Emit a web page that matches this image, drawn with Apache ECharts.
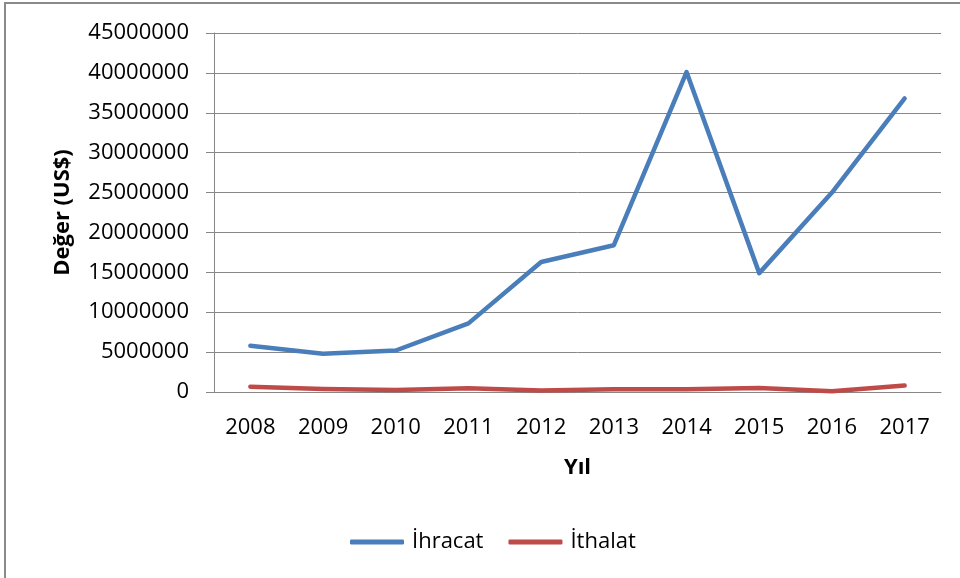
<!DOCTYPE html>
<html>
<head>
<meta charset="utf-8">
<script src="https://cdn.jsdelivr.net/npm/echarts@6/dist/echarts.min.js"></script>
<style>
html,body{margin:0;padding:0;background:#fff;}
#c{width:960px;height:578px;}
</style>
</head>
<body>
<div id="c"></div>
<script>
var years = ['2008','2009','2010','2011','2012','2013','2014','2015','2016','2017'];
var ihracat = [5800000, 4800000, 5200000, 8600000, 16300000, 18400000, 40100000, 14900000, 25000000, 36800000];
var ithalat = [670000, 380000, 250000, 460000, 200000, 330000, 330000, 500000, 80000, 800000];
var seriesNames = ['İhracat', 'İthalat'];

var chart = echarts.init(document.getElementById('c'));
var font = '"Open Sans", "Liberation Sans", sans-serif';
chart.setOption({
  animation: false,
  backgroundColor: '#fff',
  textStyle: { fontFamily: font },
  graphic: [{
    type: 'rect',
    shape: { x: 5, y: 3, width: 1000, height: 1000 },
    style: { fill: 'none', stroke: '#8a8a8a', lineWidth: 2 },
    silent: true
  }],
  grid: { left: 214, right: 19, top: 33, bottom: 186, containLabel: false },
  legend: {
    data: seriesNames,
    bottom: 20,
    left: 345,
    itemWidth: 54,
    itemHeight: 5,
    itemGap: 25,
    icon: 'roundRect',
    textStyle: { fontSize: 22, color: '#000', fontFamily: font, padding: [0,0,0,3] }
  },
  xAxis: {
    type: 'category',
    data: years,
    boundaryGap: true,
    name: 'Yıl',
    nameLocation: 'middle',
    nameGap: 65,
    nameTextStyle: { fontSize: 22, fontWeight: 'bold', color: '#000', fontFamily: font },
    axisLine: { lineStyle: { color: '#878787', width: 1 } },
    axisTick: { show: false },
    axisLabel: { fontSize: 22, color: '#000', margin: 25, fontFamily: font }
  },
  yAxis: {
    type: 'value',
    min: 0,
    max: 45000000,
    interval: 5000000,
    name: 'Değer (US$)',
    nameLocation: 'middle',
    nameGap: 140,
    nameTextStyle: { fontSize: 22, fontWeight: 'bold', color: '#000', fontFamily: font },
    axisLine: { show: true, lineStyle: { color: '#878787', width: 1 } },
    axisTick: { show: true, length: 8, lineStyle: { color: '#878787' } },
    splitLine: { lineStyle: { color: '#878787', width: 1 } },
    axisLabel: { fontSize: 22, color: '#000', margin: 25, fontFamily: font,
      formatter: function (v) { return String(v); } }
  },
  series: [
    {
      name: seriesNames[0], type: 'line', data: ihracat,
      symbol: 'none', smooth: false,
      lineStyle: { color: '#4A7EBB', width: 4.5, cap: 'round', join: 'round' },
      itemStyle: { color: '#4A7EBB' }
    },
    {
      name: seriesNames[1], type: 'line', data: ithalat,
      symbol: 'none', smooth: false,
      lineStyle: { color: '#BE4B48', width: 4.5, cap: 'round', join: 'round' },
      itemStyle: { color: '#BE4B48' }
    }
  ]
});
</script>
</body>
</html>
